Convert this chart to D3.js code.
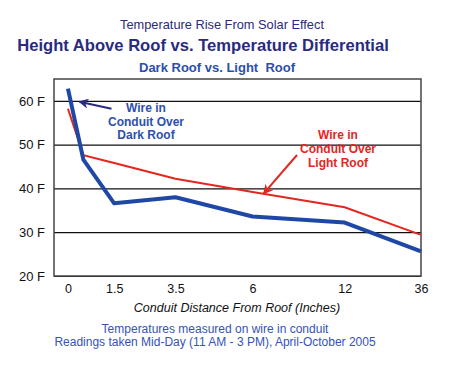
<!DOCTYPE html>
<html>
<head>
<meta charset="utf-8">
<script src="https://cdn.jsdelivr.net/npm/d3@7"></script>
<style>
  body { margin: 0; background: #fff; }
  svg { display: block; font-family: "Liberation Sans", Arial, sans-serif; }
</style>
</head>
<body>
<div id="chart"></div>
<script>
// distances (inches) and temperature rise (F)
const distances = [0, 0.5, 1.5, 3.5, 6, 12, 36]
const darkRoof = [62.8, 46.6, 36.6, 38.0, 33.6, 32.2, 25.6]
const lightRoof = [58.2, 47.6, 45.8, 42.2, 39.2, 35.7, 29.4]
const xTickValues = [0, 1.5, 3.5, 6, 12, 36]
const yTickValues = [20, 30, 40, 50, 60]

const width = 450
const height = 365
const margin = { top: 79, right: 29, bottom: 89, left: 54 }
const plotW = width - margin.left - margin.right
const plotH = height - margin.top - margin.bottom

const svg = d3.select('#chart').append('svg')
    .attr('width', width)
    .attr('height', height)

// the x axis is not to scale, so map each tick to its spot along the axis
const xScale = d3.scaleLinear()
    .domain(xTickValues)
    .range([0.038, 0.164, 0.331, 0.541, 0.792, 1.0].map(f => margin.left + f * plotW))

const yScale = d3.scaleLinear()
    .domain([20, 65])
    .range([margin.top + plotH, margin.top])

// gridlines + y labels
const yAxis = d3.axisLeft(yScale)
    .tickValues(yTickValues)
    .tickSize(-plotW)
    .tickPadding(9)
    .tickFormat(d => d + ' F')

const gy = svg.append('g')
    .attr('transform', `translate(${margin.left},0)`)
    .call(yAxis)
gy.select('.domain').remove()
gy.selectAll('line').attr('stroke', '#111').attr('stroke-width', 1.2)
gy.selectAll('text').attr('font-size', 13).attr('fill', '#111')
    .attr('font-family', '"Liberation Sans", Arial, sans-serif')

const xAxis = d3.axisBottom(xScale)
    .tickValues(xTickValues)
    .tickSize(0)
    .tickPadding(8)
    .tickFormat(d => d)

const gx = svg.append('g')
    .attr('transform', `translate(0,${margin.top + plotH})`)
    .call(xAxis)
gx.select('.domain').remove()
gx.selectAll('text').attr('font-size', 12.5).attr('fill', '#111')
    .attr('font-family', '"Liberation Sans", Arial, sans-serif')

// plot frame
svg.append('rect')
    .attr('x', margin.left)
    .attr('y', margin.top)
    .attr('width', plotW)
    .attr('height', plotH)
    .attr('fill', 'none')
    .attr('stroke', '#444')
    .attr('stroke-width', 1.5)

const line = d3.line()
    .x(d => xScale(d[0]))
    .y(d => yScale(d[1]))

svg.append('path')
    .datum(distances.map((d, i) => [d, lightRoof[i]]))
    .attr('d', line)
    .attr('fill', 'none')
    .attr('stroke', '#e5261e')
    .attr('stroke-width', 2)

svg.append('path')
    .datum(distances.map((d, i) => [d, darkRoof[i]]))
    .attr('d', line)
    .attr('fill', 'none')
    .attr('stroke', '#1f48a6')
    .attr('stroke-width', 4)
    .attr('stroke-linejoin', 'round')

// arrow heads
const defs = svg.append('defs')
const addMarker = (id, color) => {
    defs.append('marker')
        .attr('id', id)
        .attr('viewBox', '0 0 10 10')
        .attr('refX', 9)
        .attr('refY', 5)
        .attr('markerWidth', 5)
        .attr('markerHeight', 5)
        .attr('orient', 'auto')
        .append('path')
        .attr('d', 'M0,0 L10,5 L0,10 L3,5 Z')
        .attr('fill', color)
}
addMarker('navyHead', '#2a2a80')
addMarker('redHead', '#e5261e')

// dark roof note, pointing at the 60 F line near the start
svg.append('line')
    .attr('x1', xScale(3.5) - 64).attr('y1', yScale(58.2))
    .attr('x2', xScale(0.5) - 4).attr('y2', yScale(59.8))
    .attr('stroke', '#2a2a80')
    .attr('stroke-width', 2)
    .attr('marker-end', 'url(#navyHead)')

const darkNote = svg.append('text')
    .attr('text-anchor', 'middle')
    .attr('font-size', 12)
    .attr('font-weight', 'bold')
    .attr('fill', '#2d4fb0')
darkNote.selectAll('tspan')
    .data(['Wire in', 'Conduit Over', 'Dark Roof'])
    .join('tspan')
    .attr('x', 146)
    .attr('y', (d, i) => 112 + i * 13.5)
    .text(d => d)

// light roof note
svg.append('line')
    .attr('x1', 297).attr('y1', 155)
    .attr('x2', xScale(6) + 11).attr('y2', yScale(38.8))
    .attr('stroke', '#e5261e')
    .attr('stroke-width', 2)
    .attr('marker-end', 'url(#redHead)')

const lightNote = svg.append('text')
    .attr('text-anchor', 'middle')
    .attr('font-size', 12)
    .attr('font-weight', 'bold')
    .attr('fill', '#e5261e')
lightNote.selectAll('tspan')
    .data(['Wire in', 'Conduit Over', 'Light Roof'])
    .join('tspan')
    .attr('x', 338)
    .attr('y', (d, i) => 139 + i * 14)
    .text(d => d)

// titles
svg.append('text')
    .text('Temperature Rise From Solar Effect')
    .attr('x', 222).attr('y', 29)
    .attr('text-anchor', 'middle')
    .attr('font-size', 12.8)
    .attr('fill', '#2a2a7e')

svg.append('text')
    .text('Height Above Roof vs. Temperature Differential')
    .attr('x', 203).attr('y', 51)
    .attr('text-anchor', 'middle')
    .attr('font-size', 16.6)
    .attr('font-weight', 'bold')
    .attr('fill', '#2a2a80')

svg.append('text')
    .text('Dark Roof vs. Light  Roof')
    .attr('x', 217).attr('y', 72)
    .attr('text-anchor', 'middle')
    .attr('font-size', 13)
    .attr('font-weight', 'bold')
    .attr('fill', '#2d4fa8')
    .style('white-space', 'pre')

svg.append('text')
    .text('Conduit Distance From Roof (Inches)')
    .attr('x', 237).attr('y', 312)
    .attr('text-anchor', 'middle')
    .attr('font-size', 12.5)
    .attr('font-style', 'italic')
    .attr('fill', '#111')

const footer = svg.append('text')
    .attr('text-anchor', 'middle')
    .attr('font-size', 12)
    .attr('fill', '#3552b8')
footer.selectAll('tspan')
    .data(['Temperatures measured on wire in conduit', 'Readings taken Mid-Day (11 AM - 3 PM), April-October 2005'])
    .join('tspan')
    .attr('x', 215)
    .attr('y', (d, i) => 333 + i * 13)
    .text(d => d)
</script>
</body>
</html>
